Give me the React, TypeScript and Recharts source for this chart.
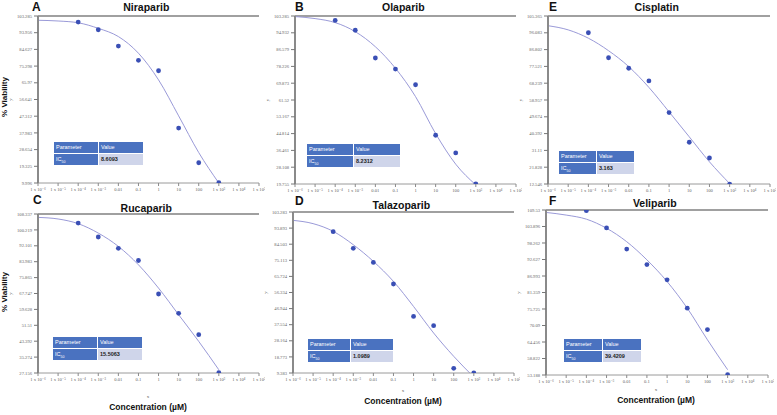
import { ComposedChart, Line, Scatter, XAxis, YAxis, ReferenceLine } from 'recharts'

// concentrations (µM), one per decade on the log axis
const xTicks = [1e-6, 1e-5, 1e-4, 1e-3, 0.01, 0.1, 1, 10, 100, 1e3, 1e4, 1e5]
const xTickLabels = ['1 x 10⁻⁶', '1 x 10⁻⁵', '1 x 10⁻⁴', '1 x 10⁻³', '0.01', '0.1', '1', '10', '100', '1 x 10³', '1 x 10⁴', '1 x 10⁵']

const doseX = [1e-4, 1e-3, 0.01, 0.1, 1, 10, 100, 1e3]
const curveX = [1e-6, 1e-5, 1e-4, 1e-3, 0.01, 0.1, 1, 10, 100, 1e3]

// measured viability (%)
const niraparibPoints = [99.9, 95.6, 86.5, 78.5, 72.7, 40.7, 21.3, 10.2]
const olaparibPoints = [101.1, 96.2, 82.4, 76.9, 69.1, 44.0, 35.2, 19.8]
const cisplatinPoints = [96.1, 82.3, 76.5, 69.5, 52.0, 35.6, 26.9, 12.5]
const rucaparibPoints = [103.7, 96.6, 90.8, 84.6, 67.5, 57.6, 46.7, 27.3]
const talazoparibPoints = [91.8, 82.1, 73.9, 61.3, 42.4, 37.0, 12.1, 9.4]
const veliparibPoints = [109.3, 103.4, 96.2, 90.9, 85.7, 76.0, 68.7, 53.3]

// fitted curve, read at each decade
const niraparibCurve = [100.9, 100.5, 99.5, 96.4, 91.8, 82.5, 67.6, 47.5, 27.0, 10.0]
const olaparibCurve = [103.0, 102.0, 100.0, 95.5, 88.0, 77.3, 63.2, 44.8, 29.6, 19.3]
const cisplatinCurve = [100.0, 97.7, 93.1, 86.2, 77.4, 65.9, 52.4, 38.6, 24.8, 12.8]
const rucaparibCurve = [106.6, 105.8, 103.4, 98.6, 91.8, 82.4, 70.5, 56.9, 43.3, 28.8]
const talazoparibCurve = [98.4, 96.5, 92.0, 84.2, 74.5, 62.8, 48.2, 32.7, 19.1, 7.0]
const veliparibCurve = [108.7, 107.8, 106.4, 103.3, 98.7, 92.5, 85.1, 76.0, 65.2, 55.0]

const niraparibTicks = ['9.996', '19.325', '28.654', '37.983', '47.312', '56.641', '65.97', '75.298', '84.627', '93.956', '103.285']
const olaparibTicks = ['19.755', '28.108', '36.461', '44.814', '53.167', '61.52', '69.873', '78.226', '86.579', '94.932', '103.285']
const cisplatinTicks = ['12.546', '21.828', '31.11', '40.392', '49.674', '58.957', '68.239', '77.521', '86.802', '96.083', '105.365']
const rucaparibTicks = ['27.156', '35.274', '43.392', '51.51', '59.628', '67.747', '75.865', '83.983', '92.101', '100.219', '108.337']
const talazoparibTicks = ['9.383', '18.773', '28.164', '37.554', '46.944', '56.334', '65.724', '75.113', '84.503', '93.893', '103.283']
const veliparibTicks = ['53.188', '58.822', '64.456', '70.09', '75.725', '81.359', '86.993', '92.627', '98.262', '103.896', '109.53']

const ic50 = ['8.6093', '8.2312', '3.163', '15.5063', '1.0989', '39.4209']

const pairs = (ys: number[], xs: number[]) => ys.map((v, i) => ({ x: xs[i], v }))

const panels = [
  { letter: 'A', name: 'Niraparib', pts: niraparibPoints, curve: niraparibCurve, ticks: niraparibTicks, ic: ic50[0],
    plot: { x: 38, y: 16, w: 221, h: 167 }, table: { x: 54, y: 142, split: 44 }, letterPos: [32, 11], titleY: 11, viab: 97 },
  { letter: 'B', name: 'Olaparib', pts: olaparibPoints, curve: olaparibCurve, ticks: olaparibTicks, ic: ic50[1],
    plot: { x: 295, y: 16, w: 221, h: 168 }, table: { x: 307, y: 144, split: 46 }, letterPos: [295, 11], titleY: 11 },
  { letter: 'E', name: 'Cisplatin', pts: cisplatinPoints, curve: cisplatinCurve, ticks: cisplatinTicks, ic: ic50[2],
    plot: { x: 548, y: 16, w: 222, h: 168 }, table: { x: 559, y: 151, split: 37 }, letterPos: [549, 11], titleY: 11 },
  { letter: 'C', name: 'Rucaparib', pts: rucaparibPoints, curve: rucaparibCurve, ticks: rucaparibTicks, ic: ic50[3],
    plot: { x: 38, y: 214, w: 221, h: 159 }, table: { x: 53, y: 337, split: 44 }, letterPos: [33, 204], titleY: 212, viab: 292, concY: 410 },
  { letter: 'D', name: 'Talazoparib', pts: talazoparibPoints, curve: talazoparibCurve, ticks: talazoparibTicks, ic: ic50[4],
    plot: { x: 293, y: 212, w: 221, h: 161 }, table: { x: 308, y: 339, split: 42 }, letterPos: [295, 205], titleY: 209, concY: 404 },
  { letter: 'F', name: 'Veliparib', pts: veliparibPoints, curve: veliparibCurve, ticks: veliparibTicks, ic: ic50[5],
    plot: { x: 546, y: 210, w: 222, h: 165 }, table: { x: 564, y: 339, split: 38 }, letterPos: [549, 205], titleY: 207, concY: 403 },
]

const serif = '"Liberation Serif", "DejaVu Serif", serif'
const sans = '"Liberation Sans", Arial, sans-serif'

const Dot = (props: any) => <circle cx={props.cx} cy={props.cy} r={2.4} fill="#3a4fb5" />

function Panel({ p }: { p: (typeof panels)[number] }) {
  const yTicks = p.ticks.map(Number)
  const YW = 36
  const { x, y, w, h } = p.plot
  const width = YW + w + 6
  const height = 4 + h + 14
  return (
    <div style={{ position: 'absolute', left: x - YW, top: y - 4 }}>
      <ComposedChart width={width} height={height} margin={{ top: 4, right: 6, bottom: 0, left: 0 }}>
        <XAxis
          dataKey="x"
          type="number"
          scale="log"
          domain={[1e-6, 1e5]}
          ticks={xTicks}
          allowDataOverflow
          height={14}
          tickSize={3}
          tickFormatter={(v: number) => xTickLabels[xTicks.indexOf(v)] ?? ''}
          tick={{ fontSize: 4.6, fill: '#666', fontFamily: serif }}
          stroke="#8a8a8a"
          axisLine={{ stroke: '#9a9a9a', strokeWidth: 1 }}
          interval={0}
        />
        <YAxis
          dataKey="v"
          type="number"
          domain={[yTicks[0], yTicks[yTicks.length - 1]]}
          ticks={yTicks}
          allowDataOverflow
          width={YW}
          tickSize={4}
          tickFormatter={(v: number) => p.ticks[yTicks.indexOf(v)] ?? ''}
          tick={{ fontSize: 4.6, fill: '#666', fontFamily: serif }}
          stroke="#777"
          axisLine={{ stroke: '#8a8a8a', strokeWidth: 2 }}
          interval={0}
        />
        <ReferenceLine y={yTicks[yTicks.length - 1]} stroke="#a0a0a0" strokeWidth={2} />
        <Line
          data={pairs(p.curve, curveX)}
          dataKey="v"
          type="monotone"
          stroke="#9a9ad8"
          strokeWidth={1}
          dot={false}
          activeDot={false}
          isAnimationActive={false}
        />
        <Scatter data={pairs(p.pts, doseX)} dataKey="v" shape={Dot} isAnimationActive={false} />
      </ComposedChart>
    </div>
  )
}

function ParamTable({ p }: { p: (typeof panels)[number] }) {
  const { x, y, split } = p.table
  const total = split * 2 + 1
  const cell = (extra: React.CSSProperties): React.CSSProperties => ({
    position: 'absolute',
    height: 11,
    lineHeight: '11px',
    fontSize: 5.5,
    fontFamily: sans,
    paddingLeft: 2,
    boxSizing: 'border-box',
    ...extra,
  })
  return (
    <div style={{ position: 'absolute', left: x, top: y, width: total, height: 23 }}>
      <div style={cell({ left: 0, top: 0, width: split, background: '#4a72c0', color: '#fff' })}>Parameter</div>
      <div style={cell({ left: split + 1, top: 0, width: split, background: '#4a72c0', color: '#fff' })}>Value</div>
      <div style={cell({ left: 0, top: 12, width: split, background: '#4a72c0', color: '#fff' })}>
        IC<sub style={{ fontSize: 3.5 }}>50</sub>
      </div>
      <div style={cell({ left: split + 1, top: 12, width: split, background: '#cfd5ea', color: '#222', fontWeight: 700 })}>{p.ic}</div>
    </div>
  )
}

export default function App() {
  return (
    <div style={{ position: 'absolute', left: 0, top: 0, width: 777, height: 415, background: '#fff', overflow: 'hidden' }}>
      {panels.map((p) => (
        <Panel key={p.letter} p={p} />
      ))}
      {panels.map((p) => (
        <ParamTable key={'t' + p.letter} p={p} />
      ))}
      <svg width={777} height={415} style={{ position: 'absolute', left: 0, top: 0, pointerEvents: 'none' }}>
        {panels.map((p) => (
          <g key={'l' + p.letter}>
            <text x={p.letterPos[0]} y={p.letterPos[1]} fontSize={12} fontWeight={700} fontFamily={sans} fill="#111">
              {p.letter}
            </text>
            <text x={p.plot.x + p.plot.w * 0.49} y={p.titleY} fontSize={10.5} fontWeight={700} fontFamily={sans} fill="#111" textAnchor="middle">
              {p.name}
            </text>
            <text
              x={p.plot.x - 26}
              y={p.plot.y + p.plot.h * 0.5}
              fontSize={5}
              fontFamily={serif}
              fill="#555"
              textAnchor="middle"
              transform={`rotate(-90 ${p.plot.x - 26} ${p.plot.y + p.plot.h * 0.5})`}
            >
              y
            </text>
            {p.viab !== undefined && (
              <text x={7} y={p.viab} fontSize={8} fontWeight={700} fontFamily={sans} fill="#111" textAnchor="middle" transform={`rotate(-90 7 ${p.viab})`}>
                % Viability
              </text>
            )}
            {p.concY !== undefined && (
              <>
                <text x={p.plot.x + 110} y={p.concY - 12} fontSize={5} fontFamily={serif} fill="#555" textAnchor="middle">
                  x
                </text>
                <text x={p.plot.x + 110} y={p.concY} fontSize={8.5} fontWeight={700} fontFamily={sans} fill="#111" textAnchor="middle">
                  Concentration (µM)
                </text>
              </>
            )}
          </g>
        ))}
      </svg>
    </div>
  )
}
